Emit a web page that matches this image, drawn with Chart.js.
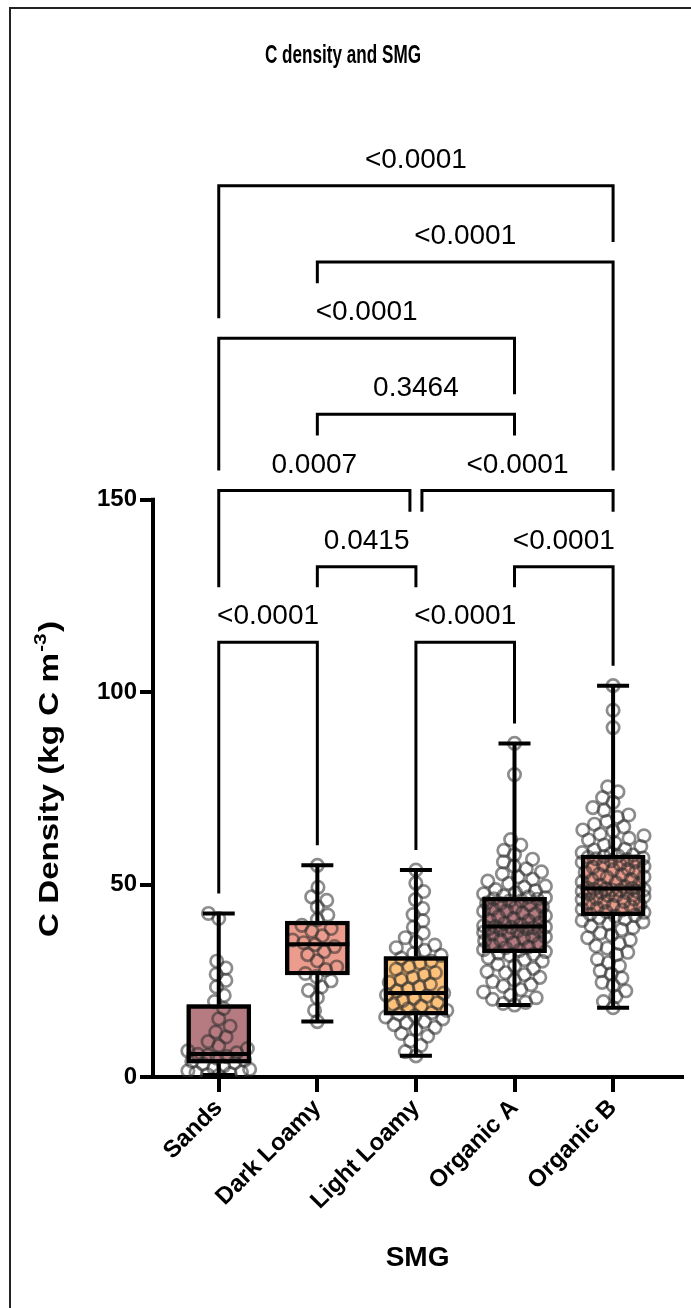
<!DOCTYPE html>
<html>
<head>
<meta charset="utf-8">
<title>C density and SMG</title>
<script src="https://cdn.jsdelivr.net/npm/chart.js@4.4.0/dist/chart.umd.min.js"></script>
<style>
  html, body { margin: 0; padding: 0; background: #fff; }
  #wrap { position: relative; width: 691px; height: 1308px; }
</style>
</head>
<body>
<div id="wrap"><canvas id="chart" width="691" height="1308"></canvas></div>
<script>
// ---- data ----
const categories = ['Sands', 'Dark Loamy', 'Light Loamy', 'Organic A', 'Organic B'];

// box-and-whisker summary (whiskers run min to max)
const boxMin    = [0.5, 14.4, 5.5, 18.7, 18.0];
const boxQ1     = [3.6, 26.5, 16.1, 32.3, 41.9];
const boxMedian = [6.0, 34.5, 21.8, 39.1, 49.0];
const boxQ3     = [18.8, 40.5, 31.3, 46.7, 57.7];
const boxMax    = [42.5, 55.0, 53.8, 86.7, 101.7];

// individual samples (kg C m-3)
const sandsValues = [0.4, 0.6, 0.9, 1.1, 1.3, 1.6, 2.0, 2.3, 2.9, 3.4, 3.7, 4.1, 4.4, 4.9, 5.3, 5.6, 5.9, 6.3,
  6.8, 7.4, 8.1, 9.2, 10.4, 11.7, 13.2, 15.1, 17.8, 19.6, 21.2, 23.4, 25.1, 26.7, 28.3, 30.1, 41.2, 42.5];
const darkLoamyValues = [14.4, 17.3, 20.6, 22.5, 23.4, 25.0, 26.1, 26.9, 27.9, 28.6, 30.2, 31.8, 32.6, 33.9,
  34.4, 34.9, 35.6, 36.7, 37.9, 38.6, 39.4, 40.9, 42.1, 44.2, 45.9, 46.8, 49.3, 55.0];
const lightLoamyValues = [5.5, 6.6, 8.2, 9.4, 10.6, 11.3, 12.4, 12.9, 13.6, 14.1, 14.4, 15.1, 15.6, 15.9, 16.3,
  16.7, 17.3, 17.7, 18.4, 18.9, 19.3, 19.9, 20.5, 21.0, 21.3, 21.8, 22.4, 22.9, 23.4, 24.1, 24.6, 25.3, 25.9,
  26.6, 27.1, 28.0, 28.7, 29.6, 30.1, 30.9, 31.6, 32.1, 32.9, 33.6, 34.3, 35.1, 36.2, 37.4, 38.9, 40.6, 42.2,
  43.8, 46.1, 48.2, 50.4, 53.8];
const organicAValues = [18.7, 19.1, 19.4, 20.2, 20.6, 21.3, 22.1, 22.7, 23.6, 24.0, 24.8, 25.2, 25.9, 26.6,
  27.1, 27.4, 28.2, 28.9, 29.3, 30.1, 30.5, 31.0, 31.6, 31.9, 32.2, 32.6, 32.9, 33.1, 33.6, 33.8, 34.3, 34.7,
  34.9, 35.4, 35.6, 36.1, 36.4, 36.6, 37.1, 37.3, 37.6, 37.9, 38.1, 38.3, 38.5, 38.6, 38.8, 38.9, 39.0, 39.1,
  39.3, 39.6, 39.9, 40.1, 40.6, 40.8, 41.2, 41.7, 41.9, 42.4, 42.6, 43.1, 43.2, 43.7, 44.1, 44.2, 44.8, 45.1,
  45.2, 45.7, 45.8, 46.2, 46.3, 46.6, 46.8, 47.1, 47.6, 47.9, 48.4, 48.7, 49.3, 49.6, 50.3, 50.9, 51.4, 52.0,
  52.8, 53.3, 54.1, 54.8, 55.9, 56.6, 57.8, 58.9, 60.3, 61.7, 78.6, 86.7];
const organicBValues = [18.0, 19.6, 20.9, 22.4, 23.8, 24.6, 25.7, 26.8, 27.6, 28.9, 29.7, 30.6, 31.8, 32.4,
  33.5, 34.1, 34.7, 35.6, 36.2, 36.9, 37.4, 38.3, 38.8, 39.2, 39.8, 40.3, 40.7, 41.1, 41.4, 41.8,
  42.0, 42.3, 42.8, 43.0, 43.4, 43.6, 43.9, 44.3, 44.6, 44.7, 45.2, 45.4, 45.6, 46.1, 46.3, 46.4, 46.9, 47.1,
  47.2, 47.6, 47.9, 48.0, 48.2, 48.3, 48.5, 48.6, 48.7, 48.8, 48.9, 49.0,
  49.1, 49.4, 49.9, 50.0, 50.5, 50.7, 51.2, 51.3, 51.9, 52.0, 52.6, 52.7, 53.2, 53.4, 53.9, 54.0, 54.5, 54.7,
  55.2, 55.3, 55.8, 55.9, 56.2, 56.5, 56.7, 56.9, 57.1, 57.3, 57.5, 57.7,
  58.1, 58.3, 59.0, 59.2, 59.9, 60.3, 60.8, 61.6, 62.0, 62.7, 63.1, 63.9, 64.2, 65.0, 65.7, 66.4, 67.5, 68.1,
  69.3, 70.0, 71.4, 72.6, 74.1, 75.4, 90.8, 95.3, 101.7];
const groupValues = [sandsValues, darkLoamyValues, lightLoamyValues, organicAValues, organicBValues];

const yTickValues = [0, 50, 100, 150];

// multiple comparisons: group pair, reported p value, bracket height (y units)
const comparisonPairs   = [[0, 1], [2, 3], [1, 2], [3, 4], [0, 2], [2, 4], [1, 3], [0, 3], [1, 4], [0, 4]];
const comparisonLabels  = ['<0.0001', '<0.0001', '0.0415', '<0.0001', '0.0007', '<0.0001', '0.3464', '<0.0001', '<0.0001', '<0.0001'];
const comparisonHeights = [113, 113, 132.6, 132.6, 152.4, 152.4, 172.2, 192, 211.8, 231.6];

// ---- styles ----
const FONT = '"Liberation Sans", Arial, Helvetica, sans-serif';
const boxColors = ['#b57b80', '#ec9c8c', '#fcc17b', '#b57b80', '#ec9c8c'];
const BOX_W = 64, CAP_W = 32, LINE_W = 4;

Chart.defaults.font.family = FONT;
Chart.defaults.color = '#000';

// white page with the frame lines along the top and left
const framePlugin = {
  id: 'frame',
  beforeDraw(chart) {
    const ctx = chart.ctx;
    ctx.save();
    ctx.fillStyle = '#fff';
    ctx.fillRect(0, 0, chart.width, chart.height);
    ctx.strokeStyle = '#222';
    ctx.lineWidth = 2;
    ctx.beginPath();
    ctx.moveTo(10, chart.height);
    ctx.lineTo(10, 8);
    ctx.lineTo(chart.width, 8);
    ctx.stroke();
    ctx.restore();
  }
};

// whiskers, caps, medians, box outlines and the short y axis line
const boxPlugin = {
  id: 'boxes',
  afterDatasetsDraw(chart) {
    const {ctx, scales: {x: xs, y: ys}} = chart;
    ctx.save();
    ctx.strokeStyle = '#000';
    ctx.lineWidth = LINE_W;
    ctx.lineCap = 'butt';
    categories.forEach((c, i) => {
      const x = xs.getPixelForValue(i);
      const yMin = ys.getPixelForValue(boxMin[i]);
      const yQ1 = ys.getPixelForValue(boxQ1[i]);
      const yMed = ys.getPixelForValue(boxMedian[i]);
      const yQ3 = ys.getPixelForValue(boxQ3[i]);
      const yMax = ys.getPixelForValue(boxMax[i]);
      ctx.beginPath();
      ctx.moveTo(x, yQ3); ctx.lineTo(x, yMax);
      ctx.moveTo(x, yQ1); ctx.lineTo(x, yMin);
      ctx.moveTo(x - CAP_W / 2, yMax); ctx.lineTo(x + CAP_W / 2, yMax);
      ctx.moveTo(x - CAP_W / 2, yMin); ctx.lineTo(x + CAP_W / 2, yMin);
      ctx.moveTo(x - BOX_W / 2, yMed); ctx.lineTo(x + BOX_W / 2, yMed);
      ctx.stroke();
      ctx.strokeRect(x - BOX_W / 2 + LINE_W / 2, yQ3 + LINE_W / 2, BOX_W - LINE_W, yQ1 - yQ3 - LINE_W);
    });
    // y axis line only spans the tick range
    const ax = chart.chartArea.left;
    ctx.beginPath();
    ctx.moveTo(ax, ys.getPixelForValue(yTickValues[0]) + 2);
    ctx.lineTo(ax, ys.getPixelForValue(yTickValues[yTickValues.length - 1]) - 2);
    ctx.stroke();
    ctx.restore();
  }
};

// significance brackets with p values
const bracketPlugin = {
  id: 'brackets',
  afterDraw(chart) {
    const {ctx, scales: {x: xs, y: ys}} = chart;
    ctx.save();
    ctx.font = '28px ' + FONT;
    const items = comparisonPairs.map((p, k) => {
      let x1 = xs.getPixelForValue(p[0]);
      let x2 = xs.getPixelForValue(p[1]);
      comparisonPairs.forEach((q, m) => {
        if (m !== k && comparisonHeights[m] === comparisonHeights[k]) {
          if (q[1] === p[0]) x1 += 6;
          if (q[0] === p[1]) x2 -= 6;
        }
      });
      const h = ys.getPixelForValue(comparisonHeights[k]);
      const lw = ctx.measureText(comparisonLabels[k]).width;
      return {p, x1, x2, h, lx: (x1 + x2) / 2, lw, label: comparisonLabels[k]};
    });
    // each leg drops until it nears the next bracket, p value or data below it
    const legEnd = (it, g) => {
      const gx = xs.getPixelForValue(g);
      let end = ys.getPixelForValue(boxMax[g]) - 20;
      items.forEach(o => {
        if (o.h <= it.h) return;
        if (gx >= o.x1 - 12 && gx <= o.x2 + 12) end = Math.min(end, o.h - 20);
        if (gx >= o.lx - o.lw / 2 - 12 && gx <= o.lx + o.lw / 2 + 12) end = Math.min(end, o.h - 55);
      });
      return end;
    };
    ctx.strokeStyle = '#000';
    ctx.lineWidth = 3;
    ctx.lineJoin = 'miter';
    ctx.fillStyle = '#000';
    ctx.textAlign = 'center';
    ctx.textBaseline = 'alphabetic';
    items.forEach(it => {
      ctx.beginPath();
      ctx.moveTo(it.x1, legEnd(it, it.p[0]));
      ctx.lineTo(it.x1, it.h);
      ctx.lineTo(it.x2, it.h);
      ctx.lineTo(it.x2, legEnd(it, it.p[1]));
      ctx.stroke();
      ctx.fillText(it.label, it.lx, it.h - 18);
    });
    ctx.restore();
  }
};

// chart title and the y axis title with its superscript
const textPlugin = {
  id: 'texts',
  afterDraw(chart) {
    const ctx = chart.ctx;
    ctx.save();
    ctx.fillStyle = '#000';
    ctx.font = 'bold 25px ' + FONT;
    ctx.textAlign = 'center';
    ctx.textBaseline = 'alphabetic';
    const title = 'C density and SMG';
    const sx = 156 / ctx.measureText(title).width;
    ctx.translate(343, 63);
    ctx.scale(sx, 1);
    ctx.fillText(title, 0, 0);
    ctx.restore();

    ctx.save();
    ctx.fillStyle = '#000';
    const main = 'C Density (kg C m', sup = '-3', tail = ')';
    ctx.font = 'bold 27px ' + FONT;
    const wMain = ctx.measureText(main).width;
    const wTail = ctx.measureText(tail).width;
    ctx.font = 'bold 17px ' + FONT;
    const wSup = ctx.measureText(sup).width;
    const stretch = 316 / (wMain + wSup + 2 + wTail);
    ctx.translate(58, 937);
    ctx.rotate(-Math.PI / 2);
    ctx.scale(stretch, 1);
    ctx.textAlign = 'left';
    ctx.textBaseline = 'alphabetic';
    ctx.font = 'bold 27px ' + FONT;
    ctx.fillText(main, 0, 0);
    ctx.font = 'bold 17px ' + FONT;
    ctx.fillText(sup, wMain + 1, -12);
    ctx.font = 'bold 27px ' + FONT;
    ctx.fillText(tail, wMain + wSup + 2, 0);
    ctx.restore();
  }
};

const chart = new Chart(document.getElementById('chart'), {
  type: 'bar',
  data: {
    datasets: [
      {
        type: 'scatter',
        label: 'Samples',
        data: [],
        order: 1,
        pointRadius: 6.2,
        pointHoverRadius: 6.2,
        pointBorderWidth: 2.7,
        borderColor: 'rgba(45,45,45,0.55)',
        backgroundColor: 'rgba(0,0,0,0)'
      },
      {
        type: 'bar',
        label: 'Interquartile range',
        data: categories.map((c, i) => ({x: i, y: [boxQ1[i], boxQ3[i]]})),
        order: 2,
        backgroundColor: boxColors,
        borderColor: '#000',
        borderWidth: LINE_W,
        borderSkipped: false,
        barThickness: BOX_W
      }
    ]
  },
  options: {
    responsive: false,
    animation: false,
    events: [],
    layout: {padding: {top: 115, right: 7, bottom: 0, left: 0}},
    plugins: {legend: {display: false}, tooltip: {enabled: false}, title: {display: false}},
    scales: {
      x: {
        type: 'linear',
        offset: false,
        min: -0.667,
        max: 4.7,
        afterBuildTicks: s => { s.ticks = categories.map((c, i) => ({value: i})); },
        afterFit: s => { s.height = 231; },
        ticks: {
          autoSkip: false,
          minRotation: 45,
          maxRotation: 45,
          padding: 2,
          color: '#000',
          font: {size: 24, weight: 'bold'},
          callback: (v, i) => categories[i]
        },
        grid: {display: true, offset: false, drawOnChartArea: false, drawTicks: true, tickLength: 15, lineWidth: LINE_W, color: '#000'},
        border: {display: true, width: LINE_W, color: '#000'},
        title: {display: true, text: 'SMG', color: '#000', font: {size: 28, weight: 'bold'}, padding: {top: 0, bottom: 33}}
      },
      y: {
        min: 0,
        max: 250,
        afterBuildTicks: s => { s.ticks = yTickValues.map(v => ({value: v})); },
        afterFit: s => { s.width = 153; },
        ticks: {padding: 3, color: '#000', font: {size: 24, weight: 'bold'}},
        grid: {display: true, drawOnChartArea: false, drawTicks: true, tickLength: 13, lineWidth: LINE_W, color: '#000'},
        border: {display: false}
      }
    }
  },
  plugins: [framePlugin, boxPlugin, bracketPlugin, textPlugin]
});

// spread each group's samples sideways so the circles do not pile up
function swarmOffsets(values, ys, diameter, maxHalf) {
  const order = values.map((v, i) => i).sort((a, b) => values[a] - values[b]);
  const placed = [];
  const out = new Array(values.length);
  const d2 = diameter * diameter;
  order.forEach((i, n) => {
    const py = ys.getPixelForValue(values[i]);
    const near = placed.filter(p => Math.abs(p.y - py) < diameter);
    const cands = [0];
    near.forEach(p => {
      const w = Math.sqrt(d2 - (p.y - py) * (p.y - py));
      cands.push(p.x + w, p.x - w);
    });
    const sign = n % 2 ? -1 : 1;
    cands.sort((a, b) => (Math.abs(a) - Math.abs(b)) || (sign * (b - a)));
    let best = null;
    for (const c of cands) {
      if (Math.abs(c) > maxHalf) continue;
      if (near.every(p => (p.x - c) ** 2 + (p.y - py) ** 2 >= d2 - 0.01)) { best = c; break; }
    }
    if (best === null) {
      let bestGap = -1;
      for (let c = -maxHalf; c <= maxHalf; c += 1) {
        const gap = Math.min(...near.map(p => (p.x - c) ** 2 + (p.y - py) ** 2));
        if (gap > bestGap) { bestGap = gap; best = c; }
      }
    }
    placed.push({x: best, y: py});
    out[i] = best;
  });
  return out;
}

const xs = chart.scales.x, ys = chart.scales.y;
const pxPerUnit = xs.getPixelForValue(1) - xs.getPixelForValue(0);
const samplePoints = [];
groupValues.forEach((vals, g) => {
  const offs = swarmOffsets(vals, ys, 11.5, 31);
  vals.forEach((v, k) => samplePoints.push({x: g + offs[k] / pxPerUnit, y: v}));
});
chart.data.datasets[0].data = samplePoints;
chart.update('none');
</script>
</body>
</html>
